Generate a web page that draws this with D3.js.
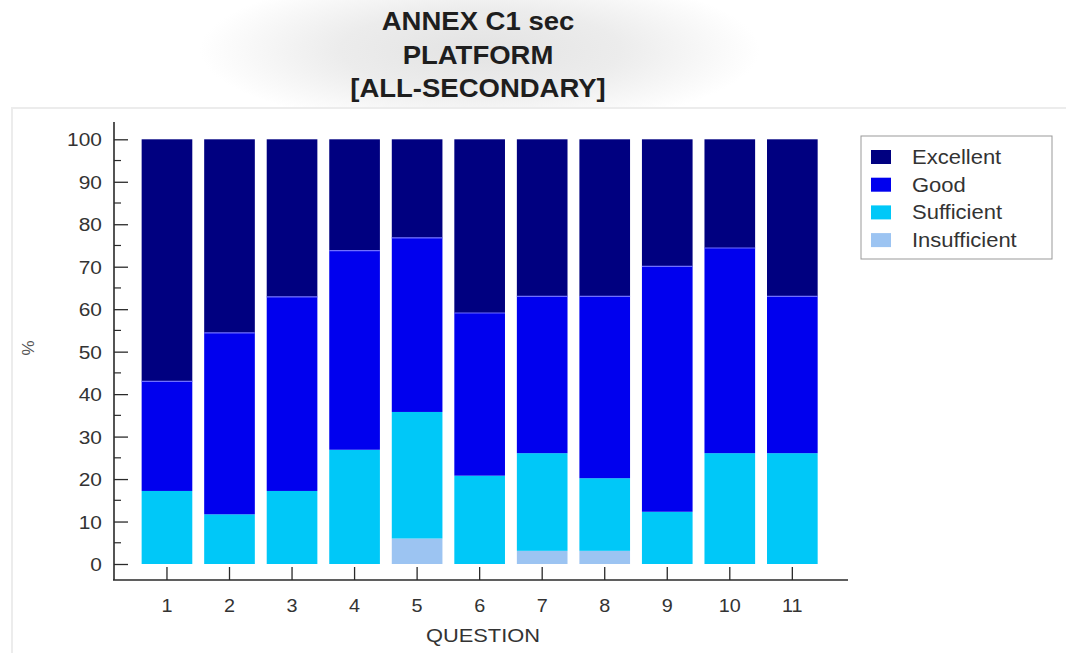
<!DOCTYPE html>
<html>
<head>
<meta charset="utf-8">
<script src="https://cdn.jsdelivr.net/npm/d3@7"></script>
<style>
  html, body { margin: 0; padding: 0; background: #fff; }
  svg { display: block; font-family: "Liberation Sans", Arial, sans-serif; }
</style>
</head>
<body>
<svg id="chart" width="1066" height="653"></svg>
<script>
const questions = ["1","2","3","4","5","6","7","8","9","10","11"];
const seriesNames = ["Insufficient","Sufficient","Good","Excellent"];
const insufficient = [0, 0, 0, 0, 6.0, 0, 3.1, 3.1, 0, 0, 0];
const sufficient   = [17.2, 11.7, 17.2, 26.9, 29.8, 20.8, 23.0, 17.1, 12.3, 26.1, 26.1];
const good         = [25.8, 42.7, 45.7, 46.9, 41.0, 38.3, 36.9, 42.8, 57.8, 48.3, 36.9];
const excellent    = [57.0, 45.6, 37.1, 26.2, 23.2, 40.9, 37.0, 37.0, 29.9, 25.6, 37.0];
const yTicks = [0,10,20,30,40,50,60,70,80,90,100];
const titleLines = ["ANNEX C1 sec", "PLATFORM", "[ALL-SECONDARY]"];
const legendOrder = ["Excellent","Good","Sufficient","Insufficient"];
const colors = {Excellent:"#000080", Good:"#0000ee", Sufficient:"#00c8f8", Insufficient:"#9cc4f2"};

const table = questions.map((q,i)=>({q, Insufficient:insufficient[i], Sufficient:sufficient[i], Good:good[i], Excellent:excellent[i]}));

const svg = d3.select("#chart");

// background decoration
const defs = svg.append("defs");
const rg = defs.append("radialGradient").attr("id","tg").attr("cx","0.5").attr("cy","0.5").attr("r","0.5");
rg.append("stop").attr("offset","0").attr("stop-color","#e3e3e3");
rg.append("stop").attr("offset","0.5").attr("stop-color","#ececec");
rg.append("stop").attr("offset","1").attr("stop-color","#ffffff");
svg.append("rect").attr("x",200).attr("y",-30).attr("width",560).attr("height",160).attr("fill","url(#tg)");
svg.append("rect").attr("x",12).attr("y",108).attr("width",1060).attr("height",560)
  .attr("fill","#fff").attr("stroke","#ececec").attr("stroke-width",2);

function stretched(sel, sx) {
  return sel.attr("transform", function(d,i){
    const tx = +this.getAttribute("data-x"), ty = +this.getAttribute("data-y");
    return `translate(${tx},${ty}) scale(${sx},1)`;
  });
}

// title
stretched(svg.append("g").selectAll("text").data(titleLines).join("text")
  .attr("data-x",478).attr("data-y",(d,i)=>30 + i*33.5)
  .attr("text-anchor","middle").attr("font-weight","bold").attr("font-size",25)
  .attr("fill","#1e1e1e").text(d=>d), 1.1);

const x = d3.scaleBand().domain(questions).range([135.7, 823.6]).paddingInner(0.19).paddingOuter(0.095);
const y = d3.scaleLinear().domain([0,100]).range([564,139.3]);

const stack = d3.stack().keys(seriesNames);
const layers = stack(table);

svg.append("g").selectAll("g").data(layers).join("g")
  .attr("fill",d=>colors[d.key])
  .selectAll("rect").data(d=>d).join("rect")
  .attr("x",d=>x(d.data.q))
  .attr("width",x.bandwidth())
  .attr("y",d=>y(d[1]))
  .attr("height",d=>Math.max(0,y(d[0])-y(d[1])));

// thin light lines at top of Good segments
svg.append("g").selectAll("line").data(layers[2]).join("line")
  .attr("x1",d=>x(d.data.q)).attr("x2",d=>x(d.data.q)+x.bandwidth())
  .attr("y1",d=>y(d[1])).attr("y2",d=>y(d[1]))
  .attr("stroke","#6f6fff").attr("stroke-width",1.2);

// axes lines
const axisColor = "#2a2a2a";
svg.append("line").attr("x1",114).attr("x2",114).attr("y1",122).attr("y2",580).attr("stroke",axisColor).attr("stroke-width",1.6);
svg.append("line").attr("x1",113).attr("x2",848).attr("y1",580).attr("y2",580).attr("stroke",axisColor).attr("stroke-width",1.6);

// y ticks (major inside) and minor
const yAxis = d3.axisRight(y).tickValues(yTicks).tickSize(14).tickFormat("");
const gy = svg.append("g").attr("transform","translate(114,0)").call(yAxis);
gy.select(".domain").remove();
gy.selectAll("line").attr("stroke",axisColor).attr("stroke-width",1.3);
const minor = d3.range(5,100,10);
svg.append("g").selectAll("line").data(minor).join("line")
  .attr("x1",114).attr("x2",121).attr("y1",d=>y(d)).attr("y2",d=>y(d))
  .attr("stroke",axisColor).attr("stroke-width",1.2);
stretched(svg.append("g").selectAll("text").data(yTicks).join("text")
  .attr("data-x",102).attr("data-y",d=>y(d)+7)
  .attr("text-anchor","end").attr("font-size",19).attr("fill","#333")
  .text(d=>d), 1.1);

// x ticks
const xAxis = d3.axisTop(x).tickSize(13).tickFormat("");
const gx = svg.append("g").attr("transform","translate(0,580)").call(xAxis);
gx.select(".domain").remove();
gx.selectAll("line").attr("stroke",axisColor).attr("stroke-width",1.3);
stretched(svg.append("g").selectAll("text").data(questions).join("text")
  .attr("data-x",d=>x(d)+x.bandwidth()/2).attr("data-y",612)
  .attr("text-anchor","middle").attr("font-size",18).attr("fill","#333")
  .text(d=>d), 1.1);

stretched(svg.append("text").attr("data-x",483).attr("data-y",642).attr("text-anchor","middle")
  .attr("font-size",19).attr("fill","#333").text("QUESTION"), 1.15);
svg.append("text").attr("transform","translate(34,348) rotate(-90)").attr("text-anchor","middle")
  .attr("font-size",17).attr("fill","#555").text("%");

// legend
const lg = svg.append("g");
lg.append("rect").attr("x",861).attr("y",136).attr("width",191).attr("height",123)
  .attr("fill","#fff").attr("stroke","#999").attr("stroke-width",1);
const items = lg.selectAll("g").data(legendOrder).join("g")
  .attr("transform",(d,i)=>`translate(871,${157 + i*27.7})`);
items.append("rect").attr("x",0).attr("y",-7).attr("width",20).attr("height",14).attr("fill",d=>colors[d]);
items.append("text").attr("transform","translate(41,7) scale(1.1,1)").attr("font-size",20).attr("fill","#333").text(d=>d);
</script>
</body>
</html>
